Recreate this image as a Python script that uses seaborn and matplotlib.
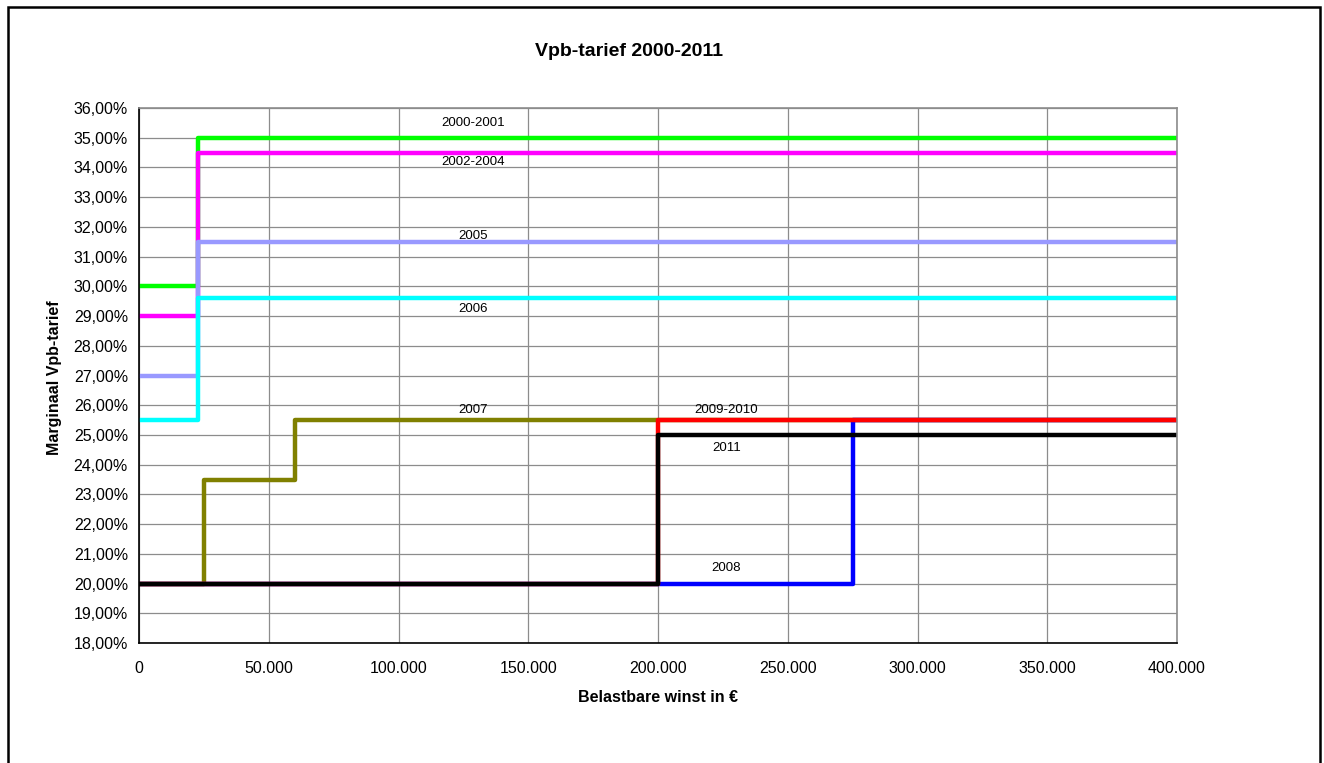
import matplotlib
matplotlib.use("Agg")
import matplotlib.pyplot as plt
from matplotlib.patches import Rectangle
from matplotlib.ticker import FuncFormatter, MultipleLocator
import numpy as np
import pandas as pd
import seaborn as sns

sns.set_style("white")
plt.rcParams['font.family'] = ['Liberation Sans', 'DejaVu Sans']
plt.rcParams['text.color'] = 'black'
plt.rcParams['xtick.color'] = 'black'
plt.rcParams['ytick.color'] = 'black'
plt.rcParams['axes.labelcolor'] = 'black'

# step breakpoints (winst in euro) and marginal rates (%) per year
series = ["2000-2001", "2002-2004", "2005", "2006", "2007", "2008", "2009-2010", "2011"]
x_2000 = [0, 22689, 400000]
y_2000 = [30.0, 35.0, 35.0]
x_2002 = [0, 22689, 400000]
y_2002 = [29.0, 34.5, 34.5]
x_2005 = [0, 22689, 400000]
y_2005 = [27.0, 31.5, 31.5]
x_2006 = [0, 22689, 400000]
y_2006 = [25.5, 29.6, 29.6]
x_2007 = [0, 25000, 60000, 400000]
y_2007 = [20.0, 23.5, 25.5, 25.5]
x_2008 = [0, 275000, 400000]
y_2008 = [20.0, 25.5, 25.5]
x_2009 = [0, 200000, 400000]
y_2009 = [20.0, 25.5, 25.5]
x_2011 = [0, 200000, 400000]
y_2011 = [20.0, 25.0, 25.0]

colors = ["#00FF00", "#FF00FF", "#9999FF", "#00FFFF", "#808000", "#0000FF", "#FF0000", "#000000"]

# where the series names are written in the chart
label_x = [128700, 128700, 128700, 128700, 128700, 226300, 226300, 226300]
label_y = [35.5, 34.18, 31.69, 29.24, 25.84, 20.52, 25.84, 24.56]

xs = [x_2000, x_2002, x_2005, x_2006, x_2007, x_2008, x_2009, x_2011]
ys = [y_2000, y_2002, y_2005, y_2006, y_2007, y_2008, y_2009, y_2011]
frames = []
for name, xv, yv in zip(series, xs, ys):
    frames.append(pd.DataFrame({"winst": xv, "tarief": yv, "jaar": name}))
df = pd.concat(frames, ignore_index=True)

fig = plt.figure(figsize=(13.24, 7.63), dpi=100)
ax = fig.add_axes([139 / 1324, 1 - 643 / 763, 1038 / 1324, 535 / 763])

sns.lineplot(data=df, x="winst", y="tarief", hue="jaar", hue_order=series,
             palette=colors, drawstyle="steps-post", estimator=None, sort=False,
             linewidth=3.2, legend=False, ax=ax, solid_capstyle="butt")

for name, lx, ly in zip(series, label_x, label_y):
    ax.text(lx, ly, name, ha="center", va="center", fontsize=9.5, color="black")

ax.set_xlim(0, 400000)
ax.set_ylim(18, 36)
ax.xaxis.set_major_locator(MultipleLocator(50000))
ax.yaxis.set_major_locator(MultipleLocator(1))
ax.xaxis.set_major_formatter(FuncFormatter(lambda v, p: "{:,.0f}".format(v).replace(",", ".")))
ax.yaxis.set_major_formatter(FuncFormatter(lambda v, p: "{:.2f}%".format(v).replace(".", ",")))
ax.grid(True, color="#8c8c8c", linewidth=0.9)
ax.set_axisbelow(True)
ax.tick_params(axis="both", direction="out", length=5, width=1, labelsize=11.5,
               color="black", labelcolor="black")
ax.tick_params(axis="y", pad=3)
ax.tick_params(axis="x", pad=8)
for side in ["left", "bottom"]:
    ax.spines[side].set_color("black")
    ax.spines[side].set_linewidth(1.2)
for side in ["top", "right"]:
    ax.spines[side].set_color("#8c8c8c")
    ax.spines[side].set_linewidth(1.2)

ax.set_xlabel("")
ax.set_ylabel("")
fig.text(658 / 1324, 1 - 697 / 763, "Belastbare winst in €", ha="center", va="center",
         fontsize=11.5, fontweight="bold", color="black")
fig.text(55 / 1324, 1 - 378 / 763, "Marginaal Vpb-tarief", ha="center", va="center",
         rotation=90, fontsize=11.5, fontweight="bold", color="black")
fig.text(629 / 1324, 1 - 52 / 763, "Vpb-tarief 2000-2011", ha="center", va="center",
         fontsize=14, fontweight="bold", color="black")

fig.patches.append(Rectangle((8 / 1324, -0.02), 1312 / 1324, 1 - 7 / 763 + 0.02,
                             transform=fig.transFigure, fill=False, edgecolor="black",
                             linewidth=1.8))

fig.savefig("out.png", dpi=100)
